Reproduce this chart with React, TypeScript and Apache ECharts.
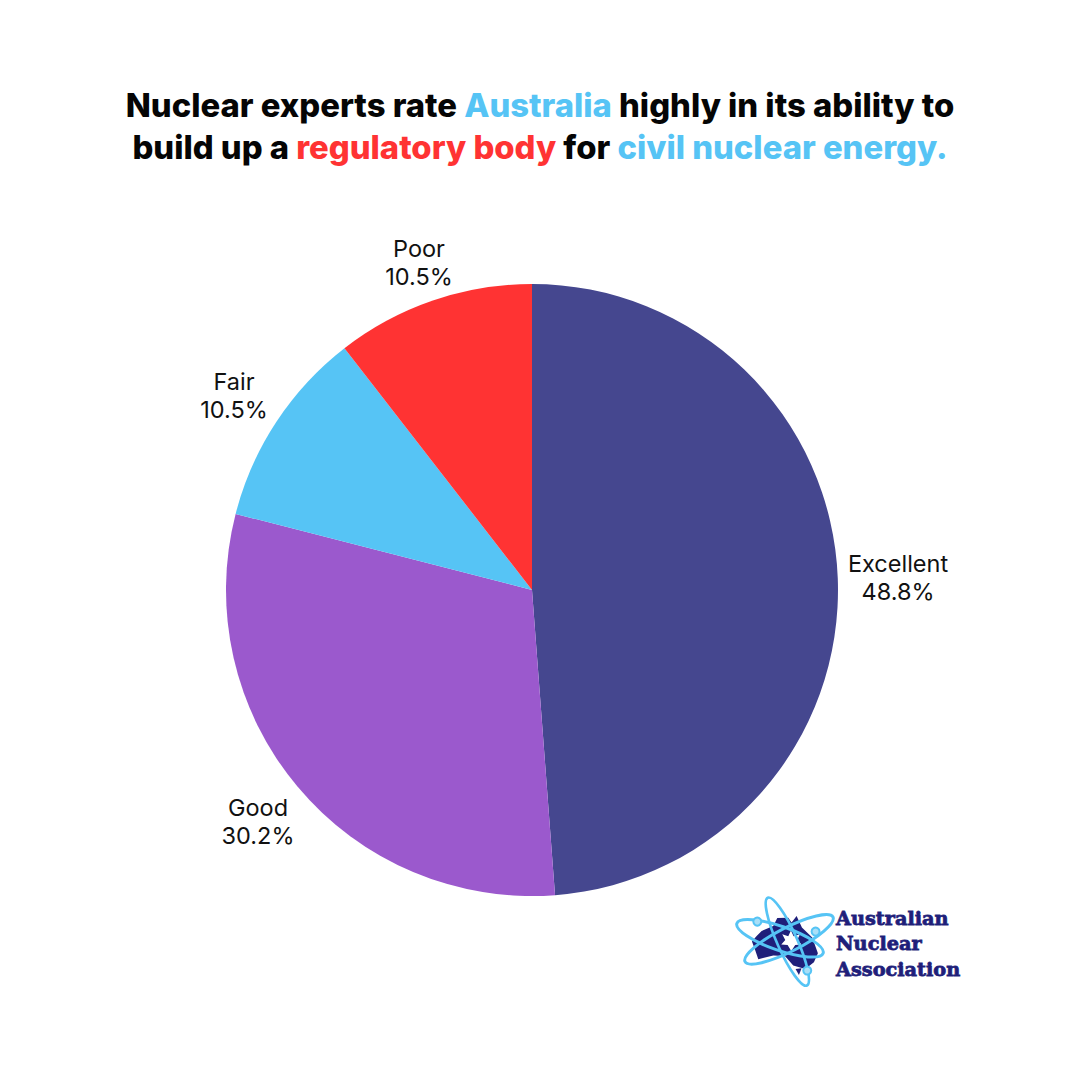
import React, { useEffect, useRef } from "react";
import * as echarts from "echarts";

const categories = ["Excellent", "Good", "Fair", "Poor"];
const shares = [48.8, 30.2, 10.5, 10.5];
const sliceColors = ["#45478f", "#9b59cd", "#56c4f5", "#ff3333"];
const labelCentres = [
  [898, 577],
  [258, 821],
  [234, 395],
  [419, 262],
];
const titleLines = [
  "{k|Nuclear experts rate }{b|Australia}{k| highly in its ability to}",
  "{k|build up a }{r|regulatory body}{k| for }{b|civil nuclear energy.}",
];
const logoLines = ["Australian", "Nuclear", "Association"];
const NAVY = "#1f1f7a";
const SKY = "#56c4f5";

const australia = [
  [96, 185], [110, 168], [125, 153], [160, 138], [172, 114], [205, 113], [215, 128], [230, 108], [246, 143],
  [277, 173], [294, 220], [282, 247], [256, 267], [220, 257], [195, 228], [160, 227], [115, 238], [106, 212],
];
const tasmania = [[227, 267], [245, 265], [237, 285]];
const star = [
  [213, 152], [221, 169], [240, 163], [232, 180], [245, 194], [226, 195], [214, 213],
  [203, 195], [184, 194], [196, 180], [187, 163], [205, 169],
];
const orbits = [
  { cx: 207, cy: 178, rx: 148, ry: 36, deg: 27, width: 9 },
  { cx: 180, cy: 175, rx: 137, ry: 36, deg: -19, width: 9 },
  { cx: 202, cy: 185, rx: 144, ry: 30, deg: -66, width: 8 },
];
const electrons = [[112, 125], [287, 155], [262, 272]];

export default function App() {
  const ref = useRef<HTMLDivElement>(null);
  useEffect(() => {
    document.body.style.margin = "0";
    const chart = echarts.init(ref.current!, undefined, { renderer: "svg" });
    const titleFont = { fontFamily: "Inter", fontWeight: 800, fontSize: 32.8, lineHeight: 42 };
    chart.setOption({
      animation: false,
      backgroundColor: "#ffffff",
      title: titleLines.map((text, i) => ({
        left: "center",
        top: 79 + i * 42,
        text,
        textStyle: {
          ...titleFont,
          rich: {
            k: { ...titleFont, color: "#050505" },
            b: { ...titleFont, color: SKY },
            r: { ...titleFont, color: "#ff3333" },
          },
        },
      })),
      series: [
        {
          type: "pie",
          center: [532, 590],
          radius: [0, 306],
          startAngle: 90,
          clockwise: true,
          sort: "none" as any,
          avoidLabelOverlap: false,
          label: {
            show: true,
            position: "outside",
            formatter: (p: any) => `${p.name}\n${p.value.toFixed(1)}%`,
            fontFamily: "Inter",
            fontSize: 23.5,
            lineHeight: 28,
            color: "#111111",
          },
          labelLine: { show: false },
          labelLayout: (p: any) => ({
            x: labelCentres[p.dataIndex][0],
            y: labelCentres[p.dataIndex][1],
            align: "center",
            verticalAlign: "middle",
          }),
          itemStyle: { borderColor: "transparent" },
          emphasis: { disabled: true },
          data: categories.map((name, i) => ({
            name,
            value: shares[i],
            itemStyle: { color: sliceColors[i] },
          })),
        },
      ],
      graphic: [
        {
          type: "group",
          x: 720,
          y: 880,
          scaleX: 1 / 3,
          scaleY: 1 / 3,
          silent: true,
          children: [
            { type: "polygon", shape: { points: australia }, style: { fill: NAVY } },
            { type: "polygon", shape: { points: tasmania }, style: { fill: NAVY } },
            { type: "polygon", shape: { points: star }, style: { fill: "#ffffff" } },
            ...orbits.map((o) => ({
              type: "ellipse",
              x: o.cx,
              y: o.cy,
              rotation: (o.deg * Math.PI) / 180,
              shape: { cx: 0, cy: 0, rx: o.rx, ry: o.ry },
              style: { fill: "none", stroke: SKY, lineWidth: o.width },
            })),
            ...electrons.map(([cx, cy]) => ({
              type: "circle",
              shape: { cx, cy, r: 12 },
              style: { fill: "#a9dff7", stroke: SKY, lineWidth: 6 },
            })),
          ],
        },
        ...logoLines.map((text, i) => ({
          type: "text",
          x: 836,
          y: 918 + i * 25.5,
          silent: true,
          style: {
            text,
            fill: NAVY,
            stroke: NAVY,
            lineWidth: 0.8,
            font: "900 19.3px 'DejaVu Serif'",
            textAlign: "left",
            textVerticalAlign: "middle",
          },
        })),
      ],
    });
    return () => chart.dispose();
  }, []);
  return <div ref={ref} style={{ width: 1080, height: 1080 }} />;
}
